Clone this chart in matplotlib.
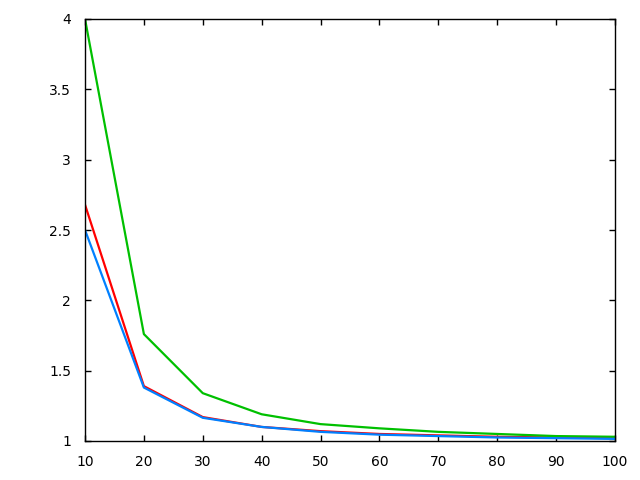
import matplotlib
matplotlib.use("Agg")
import matplotlib.pyplot as plt

x = [10, 20, 30, 40, 50, 60, 70, 80, 90, 100]
red = [2.68, 1.39, 1.17, 1.10, 1.07, 1.05, 1.04, 1.03, 1.025, 1.02]
green = [4.0, 1.76, 1.34, 1.19, 1.12, 1.09, 1.065, 1.05, 1.035, 1.03]
blue = [2.5, 1.38, 1.165, 1.10, 1.065, 1.045, 1.035, 1.025, 1.02, 1.015]
xticks = [10, 20, 30, 40, 50, 60, 70, 80, 90, 100]
yticks = [1, 1.5, 2, 2.5, 3, 3.5, 4]
yticklabels = ["1", "1.5", "2", "2.5", "3", "3.5", "4"]

fig = plt.figure(figsize=(6.4, 4.8), dpi=100)
ax = fig.add_axes([85/640, 39/480, 530/640, 422/480])
ax.plot(x, red, color="#ff0000", lw=1.6)
ax.plot(x, green, color="#00c000", lw=1.6)
ax.plot(x, blue, color="#0080ff", lw=1.6)
ax.set_xlim(10, 100)
ax.set_ylim(1, 4)
ax.set_xticks(xticks)
ax.set_yticks(yticks)
ax.set_yticklabels(yticklabels)
ax.tick_params(direction="in", top=True, right=True, length=4, width=1,
               labelsize=10, colors="black", pad=10)
for s in ax.spines.values():
    s.set_linewidth(1)
fig.savefig("out.png")
